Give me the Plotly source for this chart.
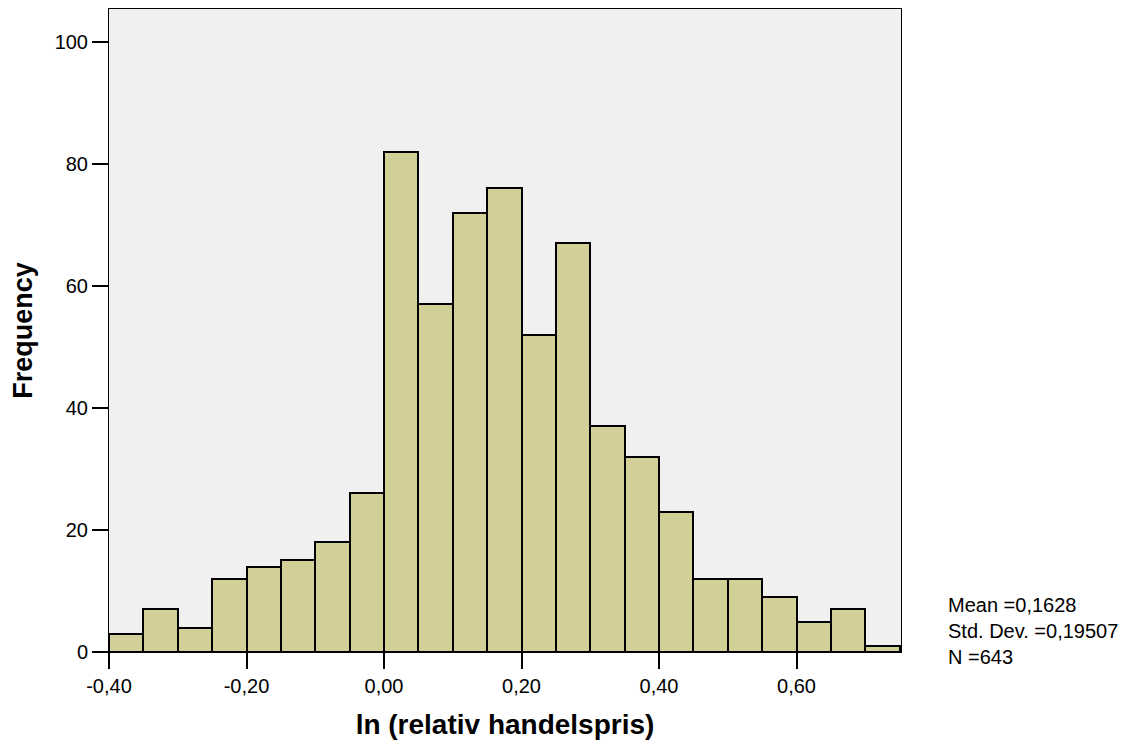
import plotly.graph_objects as go

bin_start = -0.40
bin_width = 0.05
counts = [3, 7, 4, 12, 14, 15, 18, 26, 82, 57, 72, 76, 52, 67, 37, 32, 23, 12, 12, 9, 5, 7, 1]
x_tick_vals = [-0.40, -0.20, 0.00, 0.20, 0.40, 0.60]
x_tick_text = ["-0,40", "-0,20", "0,00", "0,20", "0,40", "0,60"]
y_tick_vals = [0, 20, 40, 60, 80, 100]
stats_text = "Mean =0,1628<br>Std. Dev. =0,19507<br>N =643"

centers = [bin_start + bin_width * (i + 0.5) for i in range(len(counts))]

fig = go.Figure()
fig.add_trace(go.Bar(
    x=centers, y=counts, width=bin_width,
    marker=dict(color="#d3cf98", line=dict(color="black", width=2)),
    hoverinfo="x+y",
))

# page body has an 8px margin, so the plot area offsets account for it
fig.update_layout(
    width=1133, height=749,
    margin=dict(l=101, r=240, t=1, b=105),
    paper_bgcolor="white", plot_bgcolor="#f0f0f0",
    font=dict(family="Liberation Sans, Arial, sans-serif", color="black", size=20),
    showlegend=False,
    bargap=0,
    xaxis=dict(
        range=[-0.40, 0.752], tickvals=x_tick_vals, ticktext=x_tick_text,
        ticks="outside", ticklen=16, tickwidth=2, tickcolor="black",
        showline=True, linecolor="black", linewidth=1, mirror=True,
        showgrid=False, zeroline=False,
        title=dict(text="<b>ln (relativ handelspris)</b>", font=dict(size=28), standoff=18),
        tickfont=dict(size=20),
    ),
    yaxis=dict(
        range=[0, 105.4], tickvals=y_tick_vals,
        ticks="outside", ticklen=16, tickwidth=2, tickcolor="black",
        showline=True, linecolor="black", linewidth=1, mirror=True,
        showgrid=False, zeroline=False,
        title=dict(text="<b>Frequency</b>", font=dict(size=27), standoff=14),
        tickfont=dict(size=20),
    ),
)

fig.add_annotation(
    x=(946 - 109) / (901 - 109), y=(652 - 631) / (652 - 9),
    xref="paper", yref="paper", text=stats_text, showarrow=False,
    align="left", xanchor="left", yanchor="middle", font=dict(size=20),
)

fig.write_html("out.html")
